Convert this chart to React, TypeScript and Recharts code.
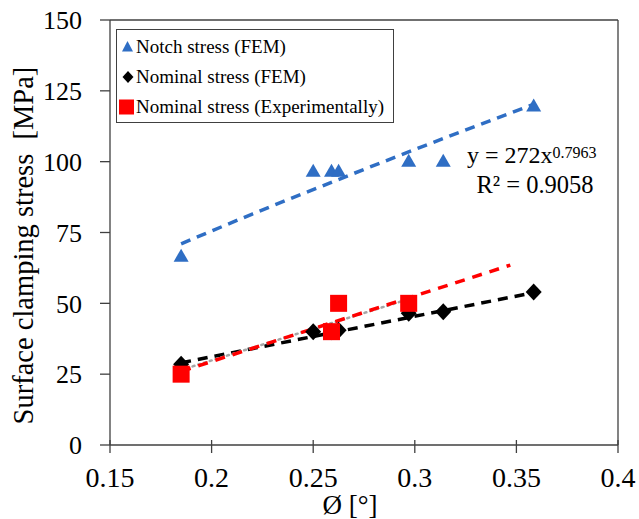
import React from 'react';
import {
  ComposedChart,
  XAxis,
  YAxis,
  Scatter,
  Line,
  ReferenceLine,
  Legend,
} from 'recharts';

// Clamping angle Ø [°] of each specimen (FEM runs)
const femAngles = [0.185, 0.25, 0.259, 0.2625, 0.297, 0.314, 0.3585];
// Notch stress from FEM [MPa]
const notchStressFem = [67, 97, 97, 97, 100.5, 100.5, 120];
// Nominal stress from FEM [MPa]
const nominalStressFem = [28.5, 40, 40, 40.5, 46.5, 47, 54];

// Experimental specimens
const expAngles = [0.185, 0.259, 0.2625, 0.297];
const nominalStressExp = [25, 40, 50, 50];

// Power-law fit of notch stress: y = 272x^0.7963
const notchFitAngles = [0.185, 0.22, 0.26, 0.3, 0.359];
const notchFitStress = [71, 81.5, 93, 104.3, 120.4];

// Trend of nominal stress (FEM)
const femFitAngles = [0.185, 0.36];
const femFitStress = [29, 54];

// Trend of nominal stress (experimental), extrapolated
const expFitAngles = [0.185, 0.347];
const expFitStress = [26, 63.5];

// Linear trend over the experimental range
const expLinAngles = [0.185, 0.297];
const expLinStress = [26.5, 51.5];

const xTicks = [0.15, 0.2, 0.25, 0.3, 0.35, 0.4];
const yTicks = [0, 25, 50, 75, 100, 125, 150];

const zip = (xs: number[], ys: number[]) => xs.map((x, i) => ({ x, y: ys[i] }));

const notchData = zip(femAngles, notchStressFem);
const nominalFemData = zip(femAngles, nominalStressFem);
const nominalExpData = zip(expAngles, nominalStressExp);
const notchFit = zip(notchFitAngles, notchFitStress);
const femFit = zip(femFitAngles, femFitStress);
const expFit = zip(expFitAngles, expFitStress);
const expLin = zip(expLinAngles, expLinStress);

const BLUE = '#2F6EC4';
const RED = '#FF0000';
const BLACK = '#000000';
const AXIS = '#404040';
const FONT = '"Liberation Serif", "Times New Roman", serif';

const X_TICK_SIZE = 8;
const X_TICK_MARGIN = 14;

// X tick: a mark crossing the axis line plus its label
const XTick = (p: any) => {
  const { x, y, payload } = p;
  const axisY = y - X_TICK_SIZE - X_TICK_MARGIN;
  return (
    <g>
      <line x1={x} x2={x} y1={axisY - 5} y2={axisY + X_TICK_SIZE} stroke={AXIS} strokeWidth={1.3} />
      <text
        x={x}
        y={y}
        dy="0.71em"
        textAnchor="middle"
        fontSize={28}
        fontFamily={FONT}
        fill="#000"
      >
        {String(payload.value)}
      </text>
    </g>
  );
};

const Triangle = (p: any) => {
  const { cx, cy } = p;
  if (cx == null || cy == null) return null;
  return (
    <polygon
      points={`${cx},${cy - 6.5} ${cx + 7.5},${cy + 6.5} ${cx - 7.5},${cy + 6.5}`}
      fill={BLUE}
    />
  );
};

const Diamond = (p: any) => {
  const { cx, cy } = p;
  if (cx == null || cy == null) return null;
  return (
    <polygon
      points={`${cx},${cy - 8.5} ${cx + 8},${cy} ${cx},${cy + 8.5} ${cx - 8},${cy}`}
      fill={BLACK}
    />
  );
};

const Square = (p: any) => {
  const { cx, cy } = p;
  if (cx == null || cy == null) return null;
  return <rect x={cx - 8.5} y={cy - 8.5} width={17} height={17} fill={RED} />;
};

const legendItems = [
  { label: 'Notch stress (FEM)', kind: 'triangle' },
  { label: 'Nominal stress (FEM)', kind: 'diamond' },
  { label: 'Nominal stress (Experimentally)', kind: 'square' },
];

const LegendMarker = ({ kind }: { kind: string }) => (
  <svg width={18} height={18} style={{ display: 'block', flex: 'none' }}>
    {kind === 'triangle' && <polygon points="9.5,3 15,13.5 4,13.5" fill={BLUE} />}
    {kind === 'diamond' && <polygon points="10,3 15.5,9 10,15 4.5,9" fill={BLACK} />}
    {kind === 'square' && <rect x={1} y={1.5} width={15} height={15} fill={RED} />}
  </svg>
);

const LegendBox = () => (
  <div
    style={{
      boxSizing: 'border-box',
      width: 278,
      height: 94,
      border: `1.3px solid ${AXIS}`,
      background: '#fff',
      paddingTop: 2,
      paddingLeft: 1,
      fontFamily: FONT,
      fontSize: 19,
      color: '#000',
    }}
  >
    {legendItems.map((it) => (
      <div
        key={it.label}
        style={{ display: 'flex', alignItems: 'center', height: 30, whiteSpace: 'nowrap' }}
      >
        <LegendMarker kind={it.kind} />
        <span>{it.label}</span>
      </div>
    ))}
  </div>
);

export default function App() {
  return (
    <div style={{ position: 'absolute', left: 0, top: 0, background: '#fff' }}>
      <ComposedChart
        width={639}
        height={519}
        margin={{ top: 20, right: 21, left: 10, bottom: 10 }}
        style={{ fontFamily: FONT }}
      >
        <XAxis
          dataKey="x"
          type="number"
          domain={[0.15, 0.4]}
          ticks={xTicks}
          allowDataOverflow
          height={64}
          tickSize={X_TICK_SIZE}
          tickMargin={X_TICK_MARGIN}
          tickLine={false}
          stroke={AXIS}
          strokeWidth={1.3}
          tick={XTick}
        />
        <YAxis
          dataKey="y"
          type="number"
          domain={[0, 150]}
          ticks={yTicks}
          allowDataOverflow
          width={100}
          tickSize={10}
          tickMargin={18}
          stroke={AXIS}
          strokeWidth={1.3}
          tick={{ fill: '#000', fontSize: 26, fontFamily: FONT }}
        />
        <ReferenceLine y={150} stroke={AXIS} strokeWidth={1.3} />
        <ReferenceLine x={0.4} stroke={AXIS} strokeWidth={1.3} />

        <Legend
          layout="horizontal"
          verticalAlign="middle"
          align="center"
          wrapperStyle={{ left: 116, top: 29, width: 278, height: 94 }}
          content={() => <LegendBox />}
        />

        <Scatter
          name="Notch stress (FEM)"
          data={notchData}
          dataKey="y"
          shape={Triangle}
          isAnimationActive={false}
        />
        <Scatter
          name="Nominal stress (FEM)"
          data={nominalFemData}
          dataKey="y"
          shape={Diamond}
          isAnimationActive={false}
        />
        <Scatter
          name="Nominal stress (Experimentally)"
          data={nominalExpData}
          dataKey="y"
          shape={Square}
          isAnimationActive={false}
        />

        <Line
          data={notchFit}
          dataKey="y"
          type="monotone"
          stroke={BLUE}
          strokeWidth={3.5}
          strokeDasharray="10 7"
          dot={false}
          activeDot={false}
          legendType="none"
          isAnimationActive={false}
        />
        <Line
          data={femFit}
          dataKey="y"
          type="linear"
          stroke={BLACK}
          strokeWidth={3.5}
          strokeDasharray="10 7"
          dot={false}
          activeDot={false}
          legendType="none"
          isAnimationActive={false}
        />
        <Line
          data={expLin}
          dataKey="y"
          type="linear"
          stroke="#A6A6A6"
          strokeWidth={2.5}
          strokeDasharray="2 4"
          strokeLinecap="round"
          dot={false}
          activeDot={false}
          legendType="none"
          isAnimationActive={false}
        />
        <Line
          data={expFit}
          dataKey="y"
          type="linear"
          stroke={RED}
          strokeWidth={3.5}
          strokeDasharray="10 8"
          dot={false}
          activeDot={false}
          legendType="none"
          isAnimationActive={false}
        />

        <text
          x={33}
          y={245.5}
          transform="rotate(-90, 33, 245.5)"
          textAnchor="middle"
          fontSize={28.5}
          fontFamily={FONT}
          fill="#000"
          style={{ whiteSpace: 'pre' }}
        >
          {'Surface clamping stress  [MPa]'}
        </text>
        <text
          x={350}
          y={514}
          textAnchor="middle"
          fontSize={27}
          fontFamily={FONT}
          fill="#000"
        >
          Ø [°]
        </text>
        <text x={467} y={163} fontSize={24} fontFamily={FONT} fill="#000">
          y = 272x
          <tspan fontSize={16} dy={-5}>
            0.7963
          </tspan>
        </text>
        <text
          x={535}
          y={193}
          textAnchor="middle"
          fontSize={24.5}
          fontFamily={FONT}
          fill="#000"
        >
          R² = 0.9058
        </text>
      </ComposedChart>
    </div>
  );
}
